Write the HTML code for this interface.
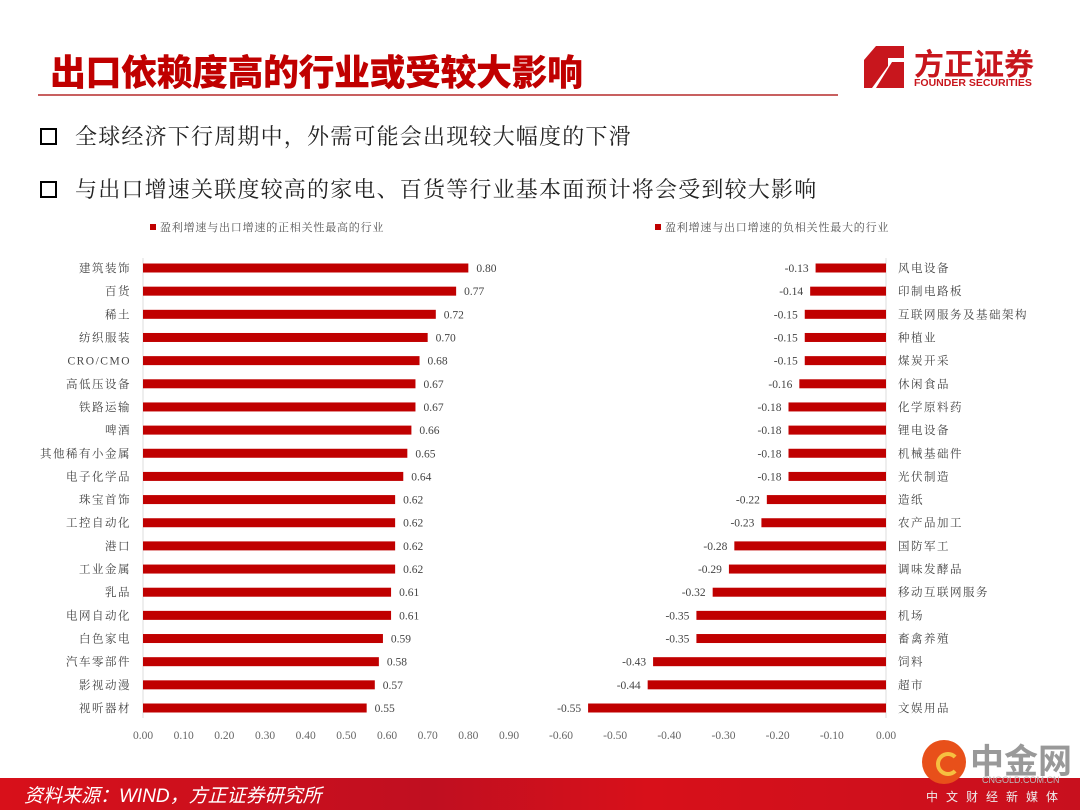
<!DOCTYPE html>
<html><head><meta charset="utf-8">
<style>
body{margin:0;width:1080px;height:810px;overflow:hidden;background:#fff;font-family:"Liberation Serif","Noto Serif CJK SC",serif;position:relative}
.abs{position:absolute}
</style></head><body>
<div class="abs" style="left:50px;top:44px;font:900 36px 'Liberation Sans','Noto Sans CJK SC',sans-serif;color:#c00000;letter-spacing:-0.5px;white-space:nowrap">出口依赖度高的行业或受较大影响</div>
<div class="abs" style="left:38px;top:94px;width:800px;height:2px;background:#c86060"></div>
<div class="abs" style="left:862px;top:44px;width:180px;height:48px">
 <svg width="44" height="46" style="position:absolute;left:0;top:0"><path d="M14 2H42V14H26V22L10 44H2V16Z" fill="#c8161d"/><path d="M30 18H42V44H14Z" fill="#c8161d"/></svg>
 <div class="abs" style="left:52px;top:-4px;font:bold 30px 'Noto Sans CJK SC',sans-serif;color:#c8161d;white-space:nowrap">方正证券</div>
 <div class="abs" style="left:52px;top:33px;font:bold 10.5px 'Liberation Sans',sans-serif;color:#c8161d;white-space:nowrap">FOUNDER SECURITIES</div>
</div>
<div class="abs" style="left:40px;top:120px;font-size:22px;letter-spacing:1.2px;color:#222;white-space:nowrap;font-family:'Liberation Serif','Noto Serif CJK SC',serif"><span style="display:inline-block;width:13px;height:13px;border:2.5px solid #000;margin-right:18px;vertical-align:-1px"></span>全球经济下行周期中，外需可能会出现较大幅度的下滑</div>
<div class="abs" style="left:40px;top:173px;font-size:22px;letter-spacing:1.2px;color:#222;white-space:nowrap;font-family:'Liberation Serif','Noto Serif CJK SC',serif"><span style="display:inline-block;width:13px;height:13px;border:2.5px solid #000;margin-right:18px;vertical-align:-1px"></span>与出口增速关联度较高的家电、百货等行业基本面预计将会受到较大影响</div>
<svg class="abs" style="left:0;top:0" width="1080" height="810" id="chart"></svg>
<div class="abs" style="left:0;top:778px;width:1080px;height:32px;background:linear-gradient(90deg,#d8101a,#c00f20 40%,#d8101a 60%,#c8101e)"></div>
<div class="abs" style="left:24px;top:781px;font:italic 19px 'Liberation Sans','Noto Sans CJK SC',sans-serif;color:#fff">资料来源：WIND，方正证券研究所</div>
<div class="abs" style="left:922px;top:738px;width:150px;height:70px">
 <div class="abs" style="left:0;top:2px;width:44px;height:44px;border-radius:50%;background:#e8501a"></div>
 <div class="abs" style="left:14px;top:14px;width:16px;height:16px;border-radius:50%;border:4px solid #f6c040;border-right-color:transparent"></div>
 <div class="abs" style="left:48px;top:-4px;font:bold 34px 'Noto Sans CJK SC',sans-serif;color:#999">中金网</div>
 <div class="abs" style="left:60px;top:37px;font:9px 'Liberation Sans',sans-serif;color:#bbb">CNGOLD.COM.CN</div>
 <div class="abs" style="left:4px;top:50px;font:12px 'Noto Sans CJK SC',sans-serif;color:#eee;letter-spacing:8px;white-space:nowrap">中文财经新媒体</div>
</div>
<script>
const leftCats=["建筑装饰","百货","稀土","纺织服装","CRO/CMO","高低压设备","铁路运输","啤酒","其他稀有小金属","电子化学品","珠宝首饰","工控自动化","港口","工业金属","乳品","电网自动化","白色家电","汽车零部件","影视动漫","视听器材"];
const leftVals=[0.80,0.77,0.72,0.70,0.68,0.67,0.67,0.66,0.65,0.64,0.62,0.62,0.62,0.62,0.61,0.61,0.59,0.58,0.57,0.55];
const leftTicks=[0,0.1,0.2,0.3,0.4,0.5,0.6,0.7,0.8,0.9];
const rightCats=["风电设备","印制电路板","互联网服务及基础架构","种植业","煤炭开采","休闲食品","化学原料药","锂电设备","机械基础件","光伏制造","造纸","农产品加工","国防军工","调味发酵品","移动互联网服务","机场","畜禽养殖","饲料","超市","文娱用品"];
const rightVals=[-0.13,-0.14,-0.15,-0.15,-0.15,-0.16,-0.18,-0.18,-0.18,-0.18,-0.22,-0.23,-0.28,-0.29,-0.32,-0.35,-0.35,-0.43,-0.44,-0.55];
const rightTicks=[-0.6,-0.5,-0.4,-0.3,-0.2,-0.1,0];
const svg=document.getElementById('chart');const NS='http://www.w3.org/2000/svg';
function mk(t,a,txt){const e=document.createElementNS(NS,t);for(const k in a)e.setAttribute(k,a[k]);if(txt!=null)e.textContent=txt;svg.appendChild(e);return e;}
const y0=268,step=(708-268)/19,bh=9,F='"Liberation Serif","Noto Serif CJK SC",serif';
const xL=v=>143+v*(509-143)/0.9;
const xR=v=>886+v*(886-561)/0.6;
let e;
e=mk('line',{x1:143,x2:143,y1:258,y2:718,stroke:'#ddd'});

leftCats.forEach((c,i)=>{const y=y0+i*step,v=leftVals[i];
 e=mk('rect',{x:xL(0),y:y-bh/2,width:xL(v)-xL(0),height:bh,fill:'#c00000'});
 
 e=mk('text',{x:131,y:y+4,'text-anchor':'end','font-size':11.5,fill:'#444','font-family':F,'letter-spacing':1.5},c);
 
 e=mk('text',{x:xL(v)+8,y:y+4,'font-size':11.5,fill:'#444','font-family':F},v.toFixed(2));
 });
leftTicks.forEach(t=>{e=mk('text',{x:xL(t),y:739,'text-anchor':'middle','font-size':11.5,fill:'#666','font-family':F},t.toFixed(2));
 });
e=mk('line',{x1:886,x2:886,y1:258,y2:718,stroke:'#ddd'});

rightCats.forEach((c,i)=>{const y=y0+i*step,v=rightVals[i];
 e=mk('rect',{x:xR(v),y:y-bh/2,width:xR(0)-xR(v),height:bh,fill:'#c00000'});
 
 e=mk('text',{x:898,y:y+4,'font-size':11.5,fill:'#444','font-family':F,'letter-spacing':1.5},c);
 
 e=mk('text',{x:xR(v)-7,y:y+4,'text-anchor':'end','font-size':11.5,fill:'#444','font-family':F},v.toFixed(2));
 });
rightTicks.forEach(t=>{e=mk('text',{x:xR(t),y:739,'text-anchor':'middle','font-size':11.5,fill:'#666','font-family':F},t.toFixed(2));
 });
e=mk('rect',{x:150,y:224,width:6,height:6,fill:'#c00000'});

e=mk('text',{x:160,y:231,'font-size':11,fill:'#555','font-family':F,'letter-spacing':0.8},'盈利增速与出口增速的正相关性最高的行业');

e=mk('rect',{x:655,y:224,width:6,height:6,fill:'#c00000'});

e=mk('text',{x:665,y:231,'font-size':11,fill:'#555','font-family':F,'letter-spacing':0.8},'盈利增速与出口增速的负相关性最大的行业');

</script>
</body></html>
